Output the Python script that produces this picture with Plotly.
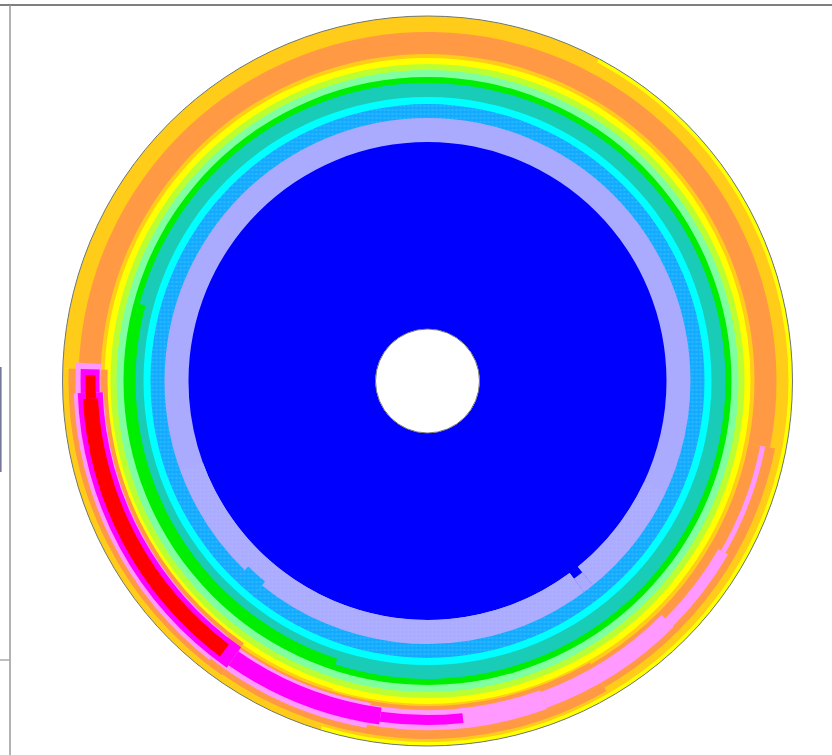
import plotly.graph_objects as go

# Contour level colours, lowest value first
level_names = ["L0", "L1", "L2", "L3", "L4", "L5", "L6", "L7", "L8", "L9", "L10", "L11", "L12", "L13"]
level_colors = ["#0000FF", "#AAAAFF", "#11AAFF", "#00FFFF", "#18CCB8", "#00EE00", "#80FFA0",
                "#BBFF33", "#FFFF00", "#FFCC19", "#FF9944", "#FF99FF", "#FF00FF", "#FF0000"]

# Region where the value is at or above each level:
# (theta_start, theta_end, r_inner, r_outer), angles in degrees CCW from east
L0 = [(0, 180, 52, 365), (180, 360, 52, 365)]
L1 = [(0, 180, 239, 365), (180, 306.5, 239, 365), (306.5, 309, 246, 365), (309, 360, 239, 365)]
L2 = [(0, 180, 263, 365), (180, 226, 263, 365), (226, 231, 258, 365), (231, 360, 263, 365)]
L3 = [(0, 180, 277, 365), (180, 360, 277, 365)]
L4 = [(0, 180, 284, 365), (180, 360, 284, 365)]
L5 = [(0, 165, 298, 365), (165, 252, 292, 365), (252, 360, 298, 365)]
L6 = [(0, 180, 304, 365), (180, 360, 304, 365)]
L7 = [(0, 180, 311, 365), (180, 360, 311, 365)]
L8 = [(0, 180, 317, 365), (180, 360, 317, 365)]
L9 = [(0, 62, 323, 361), (62, 178, 323, 365), (178, 253, 322, 365), (253, 360, 323, 361)]
L10 = [(0, 178, 327, 349), (178, 235, 320, 359), (235, 300, 325, 358),
       (300, 349, 327, 354), (349, 360, 327, 349)]
L11 = [(177, 182, 327, 352), (182, 232, 324, 354), (232, 260, 327, 352), (260, 290, 329, 349),
       (290, 315, 331, 348), (315, 330, 336, 347), (330, 349, 339, 344)]
L12 = [(178, 182, 328, 347), (182, 235, 325, 350), (235, 262, 330, 347), (262, 276, 334, 344)]
L13 = [(179, 183, 332, 342), (183, 233, 330, 345)]

levels = [L0, L1, L2, L3, L4, L5, L6, L7, L8, L9, L10, L11, L12, L13]

# Sectors of the L1 band drawn with a fine grid texture
L1_textured = [(200, 306.5, 239, 263), (309, 335, 239, 263)]

R_HOLE = 52
R_EDGE = 365


def seg_arrays(segs):
    return dict(
        theta=[(a + b) / 2 for a, b, _, _ in segs],
        width=[b - a for a, b, _, _ in segs],
        base=[r0 for _, _, r0, _ in segs],
        r=[r1 - r0 for _, _, r0, r1 in segs],
    )


fig = go.Figure()
for name, color, segs in zip(level_names, level_colors, levels):
    marker = dict(color=color, line=dict(width=0))
    if name == "L2":
        marker["pattern"] = dict(shape=".", fgcolor="#44C0FF", bgcolor=color,
                                 size=4, solidity=0.35, fillmode="overlay")
    fig.add_trace(go.Barpolar(**seg_arrays(segs), marker=marker, name=name,
                              hoverinfo="skip", showlegend=False))
    if name == "L1":
        fig.add_trace(go.Barpolar(
            **seg_arrays(L1_textured),
            marker=dict(color=color, line=dict(width=0),
                        pattern=dict(shape="+", fgcolor="#BDBDFF", bgcolor=color,
                                     size=4, solidity=0.3, fillmode="overlay")),
            name="L1 texture", hoverinfo="skip", showlegend=False))

W, H = 832, 755
cx, cy = 427.5, 381.0
fig.update_layout(
    width=W, height=H,
    margin=dict(l=0, r=0, t=0, b=0),
    paper_bgcolor="white",
    plot_bgcolor="white",
    barmode="overlay",
    polar=dict(
        domain=dict(x=[(cx - R_EDGE) / W, (cx + R_EDGE) / W],
                    y=[(H - cy - R_EDGE) / H, (H - cy + R_EDGE) / H]),
        hole=R_HOLE / R_EDGE,
        bgcolor="white",
        bargap=0,
        radialaxis=dict(range=[R_HOLE, R_EDGE], visible=False),
        angularaxis=dict(direction="counterclockwise", rotation=0,
                         showline=True, linecolor="#777777", linewidth=1,
                         showgrid=False, ticks="", showticklabels=False),
    ),
    shapes=[
        dict(type="line", xref="paper", yref="paper", x0=0, x1=1,
             y0=1 - 5 / H, y1=1 - 5 / H, line=dict(color="#555555", width=1.5)),
        dict(type="line", xref="paper", yref="paper", x0=10 / W, x1=10 / W,
             y0=0, y1=1 - 5 / H, line=dict(color="#999999", width=1.5)),
        dict(type="line", xref="paper", yref="paper", x0=0.6 / W, x1=0.6 / W,
             y0=1 - 472 / H, y1=1 - 367 / H, line=dict(color="#777799", width=2)),
        dict(type="line", xref="paper", yref="paper", x0=0, x1=10 / W,
             y0=1 - 660 / H, y1=1 - 660 / H, line=dict(color="#AAAAAA", width=1.5)),
    ],
)

fig.write_html("out.html")
